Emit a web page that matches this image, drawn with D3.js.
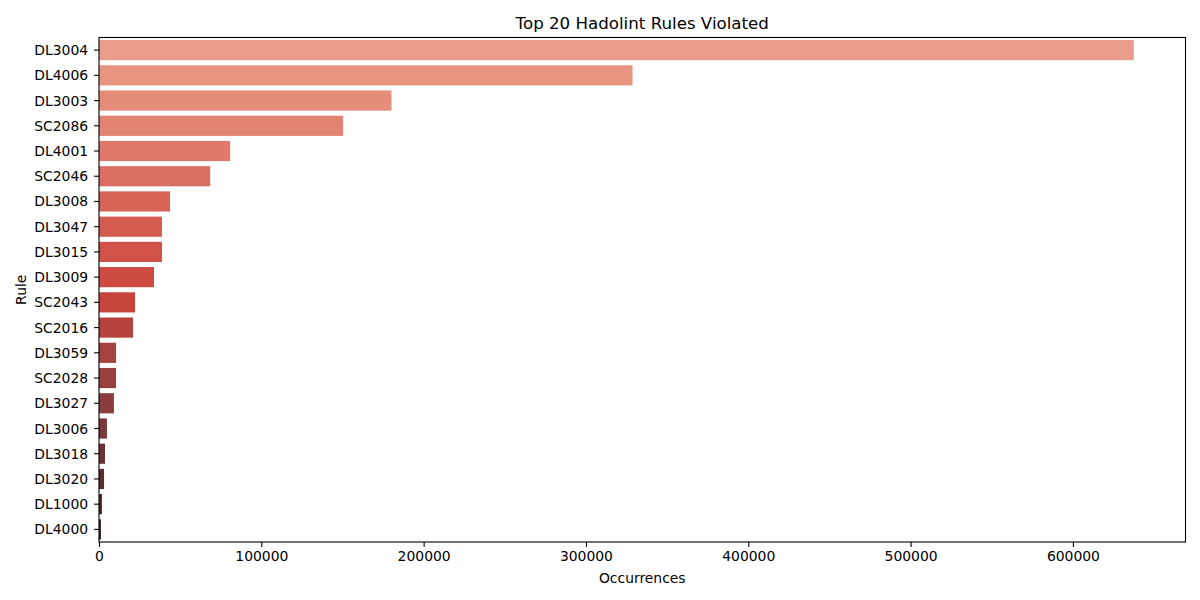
<!DOCTYPE html>
<html>
<head>
<meta charset="utf-8">
<script src="https://cdn.jsdelivr.net/npm/d3@7"></script>
<style>
  body { margin: 0; background: #fff; }
  svg { display: block; font-family: "DejaVu Sans", sans-serif; }
</style>
</head>
<body>
<div id="chart"></div>
<script>
// rules, sorted by count
const rules = ["DL3004","DL4006","DL3003","SC2086","DL4001","SC2046","DL3008","DL3047","DL3015","DL3009",
               "SC2043","SC2016","DL3059","SC2028","DL3027","DL3006","DL3018","DL3020","DL1000","DL4000"];
const occurrences = [637500, 328700, 180200, 150400, 80800, 68500, 43800, 38800, 38800, 33900,
                     22200, 21000, 10500, 10500, 9200, 4900, 3700, 3100, 1800, 1200];
const xTicks = [0, 100000, 200000, 300000, 400000, 500000, 600000];

// seaborn-ish dark reds, light to dark
const palette = ["#ea9d8a","#e7957f","#e58d79","#e28373","#de796b","#da6e62","#d66558","#d35b50","#d05249","#cd4a42",
                 "#c8453e","#b7433e","#a7433f","#99403e","#8b3c3d","#7a383a","#6a3233","#5a2c2e","#4a2728","#3a2222"];

const W = 1200, H = 600;
const m = {top: 37.5, right: 14.5, bottom: 58, left: 99};
const iw = W - m.left - m.right, ih = H - m.top - m.bottom;

const svg = d3.select("#chart").append("svg").attr("width", W).attr("height", H);

const data = rules.map((r, i) => ({rule: r, value: occurrences[i]}));

let x = d3.scaleLinear()
  .domain([0, d3.max(occurrences) * 1.05])
  .range([0, iw]);

let y = d3.scaleBand()
  .domain(rules)
  .range([0, ih])
  .paddingInner(0.2)
  .paddingOuter(0.1);

const g = svg.append("g").attr("transform", `translate(${m.left},${m.top})`);

g.selectAll("rect.bar").data(data).enter().append("rect")
  .attr("class", "bar")
  .attr("x", 0)
  .attr("y", d => y(d.rule))
  .attr("width", d => x(d.value))
  .attr("height", y.bandwidth())
  .attr("fill", (d, i) => palette[i]);

// axes
const xAxis = g.append("g").attr("transform", `translate(0,${ih})`)
  .call(d3.axisBottom(x).tickValues(xTicks).tickFormat(d3.format("d")).tickSizeOuter(0).tickSize(4.9).tickPadding(4.5));
const yAxis = g.append("g")
  .call(d3.axisLeft(y).tickSizeOuter(0).tickSize(4.9).tickPadding(6));

[xAxis, yAxis].forEach(a => {
  a.select(".domain").remove();
  a.selectAll("text").attr("font-size", "13.9px").attr("fill", "#000").attr("font-family", "DejaVu Sans");
  a.selectAll("line").attr("stroke", "#000").attr("stroke-width", 1.1);
});
yAxis.selectAll("text").attr("dy", "0.36em");

// frame
g.append("rect")
  .attr("x", 0).attr("y", 0).attr("width", iw).attr("height", ih)
  .attr("fill", "none").attr("stroke", "#000").attr("stroke-width", 1.1);

svg.append("text")
  .attr("x", m.left + iw / 2).attr("y", 29)
  .attr("text-anchor", "middle")
  .attr("font-size", "16.67px")
  .text("Top 20 Hadolint Rules Violated");

svg.append("text")
  .attr("x", m.left + iw / 2).attr("y", 582.5)
  .attr("text-anchor", "middle")
  .attr("font-size", "13.9px")
  .text("Occurrences");

svg.append("text")
  .attr("transform", `translate(26,${m.top + ih / 2}) rotate(-90)`)
  .attr("text-anchor", "middle")
  .attr("font-size", "13.9px")
  .text("Rule");
</script>
</body>
</html>
